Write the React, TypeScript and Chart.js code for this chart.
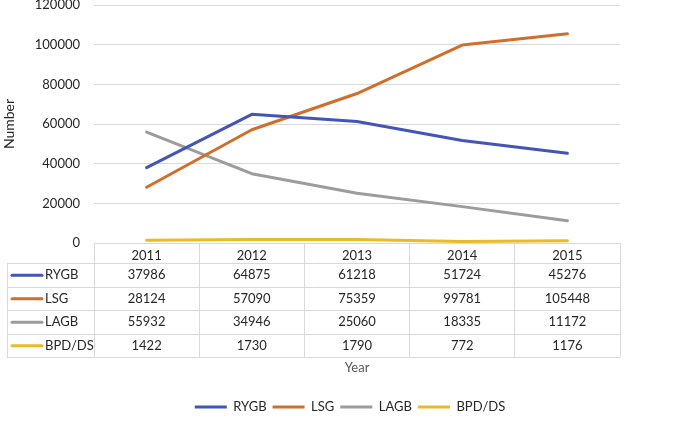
import React, { useEffect, useRef } from "react";
import { Chart, registerables } from "chart.js";

Chart.register(...registerables);

const years = ["2011", "2012", "2013", "2014", "2015"];
const seriesNames = ["RYGB", "LSG", "LAGB", "BPD/DS"];
const rygb = [37986, 64875, 61218, 51724, 45276];
const lsg = [28124, 57090, 75359, 99781, 105448];
const lagb = [55932, 34946, 25060, 18335, 11172];
const bpdds = [1422, 1730, 1790, 772, 1176];
const colors = ["#4355B9", "#D06F2C", "#9C9C9C", "#E8BA2C"];
const yTicks = [0, 20000, 40000, 60000, 80000, 100000, 120000];

const FONT = "Lato, 'Open Sans', sans-serif";
const TEXT = "#262626";
const GRID = "#D9D9D9";
const HEADER_H = 20;
const ROW_H = 23.5;

const tablePlugin = {
  id: "dataTable",
  afterDraw(chart: any) {
    const ctx = chart.ctx;
    const xs = chart.scales.x;
    const top = xs.top;
    const left = 7;
    const right = xs.right;
    const rowsTop = top + HEADER_H;
    const all = [rygb, lsg, lagb, bpdds];
    ctx.save();
    ctx.strokeStyle = GRID;
    ctx.lineWidth = 1;
    ctx.beginPath();
    for (let i = 0; i <= all.length; i++) {
      const y = Math.round(rowsTop + i * ROW_H) + 0.5;
      ctx.moveTo(left, y);
      ctx.lineTo(right, y);
    }
    ctx.moveTo(left + 0.5, Math.round(rowsTop) + 0.5);
    ctx.lineTo(left + 0.5, Math.round(rowsTop + all.length * ROW_H) + 0.5);
    ctx.stroke();

    ctx.font = `13px ${FONT}`;
    ctx.textBaseline = "middle";
    all.forEach((vals, r) => {
      const cy = rowsTop + r * ROW_H + ROW_H / 2 + 0.5;
      ctx.strokeStyle = colors[r];
      ctx.lineWidth = 3;
      ctx.lineCap = "round";
      ctx.beginPath();
      ctx.moveTo(12, cy);
      ctx.lineTo(42, cy);
      ctx.stroke();
      ctx.fillStyle = TEXT;
      ctx.textAlign = "left";
      ctx.fillText(seriesNames[r], 45, cy);
      ctx.textAlign = "center";
      vals.forEach((v, i) => {
        ctx.fillText(String(v), xs.getPixelForValue(i), cy);
      });
    });
    ctx.restore();
  },
};

export default function App() {
  const ref = useRef<HTMLCanvasElement | null>(null);
  useEffect(() => {
    document.body.style.margin = "0";
    const datasets = [rygb, lsg, lagb, bpdds].map((d, i) => ({
      label: seriesNames[i],
      data: d,
      borderColor: colors[i],
      backgroundColor: colors[i],
      borderWidth: 3,
      borderCapStyle: "round" as const,
      borderJoinStyle: "round" as const,
      pointRadius: 0,
      tension: 0,
      fill: false,
    }));
    const chart = new Chart(ref.current as HTMLCanvasElement, {
      type: "line",
      data: { labels: years, datasets },
      plugins: [tablePlugin],
      options: {
        animation: false,
        responsive: true,
        maintainAspectRatio: false,
        layout: { padding: { left: 0, right: 0, top: 5, bottom: 2.5 } },
        font: { family: FONT },
        plugins: {
          legend: {
            position: "bottom",
            labels: {
              usePointStyle: true,
              pointStyle: "line",
              pointStyleWidth: 32,
              boxHeight: 13,
              padding: 6,
              color: TEXT,
              font: { family: FONT, size: 13 },
            },
          },
          tooltip: { enabled: false },
        },
        scales: {
          x: {
            type: "category",
            offset: true,
            afterFit: (s: any) => {
              s.height = 151.5;
              s.paddingLeft = 0;
              s.paddingRight = 0;
            },
            grid: {
              offset: true,
              drawOnChartArea: false,
              drawTicks: true,
              tickLength: HEADER_H + ROW_H * 4,
              tickColor: GRID,
              tickWidth: 1,
            },
            border: { display: true, color: GRID, width: 1 },
            ticks: {
              padding: -109,
              autoSkip: false,
              maxRotation: 0,
              color: TEXT,
              font: { family: FONT, size: 13 },
            },
            title: {
              display: true,
              text: "Year",
              color: "#595959",
              font: { family: FONT, size: 13 },
              padding: { top: 0, bottom: 18.5 },
            },
          },
          y: {
            min: 0,
            max: 120000,
            afterFit: (s: any) => {
              s.width = 94;
              s.paddingTop = 0;
              s.paddingBottom = 0;
            },
            afterBuildTicks: (s: any) => {
              s.ticks = yTicks.map((v) => ({ value: v }));
            },
            grid: { color: GRID, drawTicks: false, lineWidth: 1 },
            border: { display: false },
            ticks: {
              padding: 14,
              color: TEXT,
              font: { family: FONT, size: 13 },
              callback: (v: any) => String(v),
            },
            title: {
              display: true,
              text: "Number",
              color: TEXT,
              font: { family: FONT, size: 14 },
              padding: { top: 1, bottom: 0 },
            },
          },
          yRight: {
            position: "right",
            display: true,
            afterFit: (s: any) => {
              s.width = 80;
              s.paddingTop = 0;
              s.paddingBottom = 0;
            },
            grid: { display: false },
            border: { display: false },
            ticks: { display: false },
          },
        },
      },
    });
    return () => chart.destroy();
  }, []);
  return (
    <div style={{ width: 700, height: 426, position: "relative" }}>
      <canvas ref={ref} />
    </div>
  );
}
